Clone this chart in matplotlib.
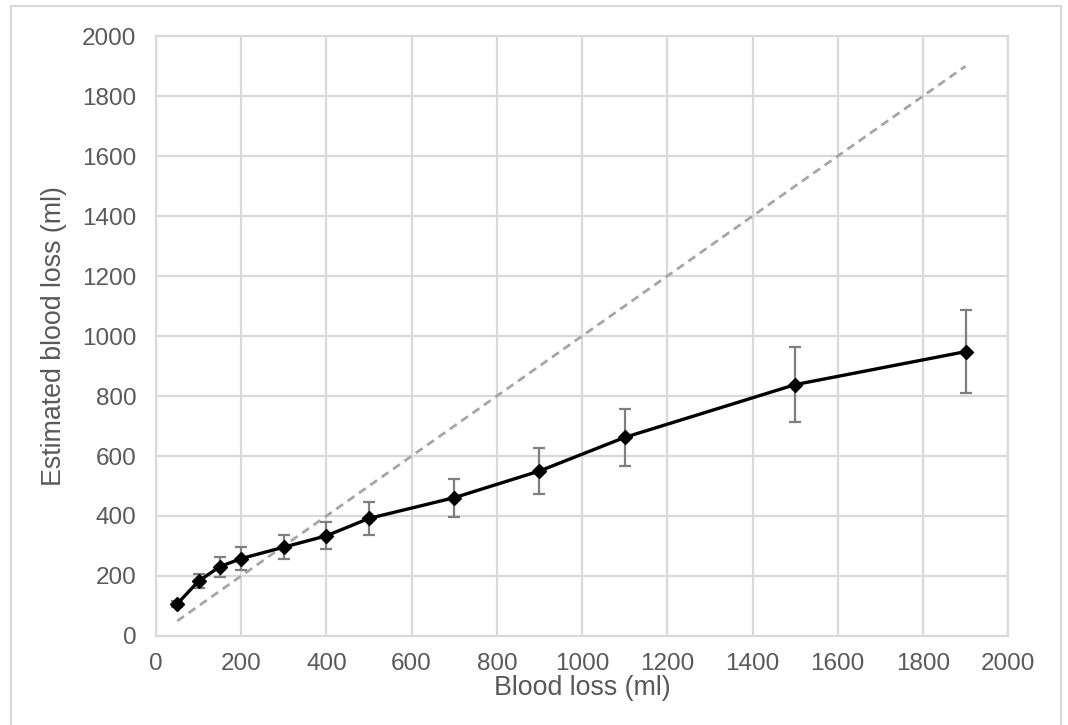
import matplotlib.pyplot as plt
from matplotlib.patches import Rectangle

plt.rcParams["font.family"] = ["Liberation Sans", "DejaVu Sans"]

# data
blood_loss = [50, 100, 150, 200, 300, 400, 500, 700, 900, 1100, 1500, 1900]
estimated = [107, 183, 231, 258, 296, 334, 392, 461, 550, 662, 838, 948]
err = [10, 24, 33, 38, 40, 45, 54, 63, 78, 95, 125, 138]
identity = [50, 1900]

TEXT = "#595959"
GRID = "#d9d9d9"

fig = plt.figure(figsize=(10.68, 7.25), dpi=100)
ax = fig.add_axes([0.146, 0.1228, 0.798, 0.8274])

# outer chart-area border
fig.patches.append(Rectangle((11 / 1068, -0.05), 1050 / 1068, 1.05 - 6 / 725,
                             transform=fig.transFigure, fill=False,
                             edgecolor=GRID, linewidth=1.5))

ax.plot(identity, identity, color="#a6a6a6", linewidth=2.0,
        dashes=(3, 2), zorder=2)
ax.errorbar(blood_loss, estimated, yerr=err, fmt="none", ecolor="#7f7f7f",
            elinewidth=1.6, capsize=4.5, capthick=1.6, zorder=3)
ax.plot(blood_loss, estimated, color="black", linewidth=2.4, marker="D",
        markersize=7.5, zorder=4)

ax.set_xlim(0, 2000)
ax.set_ylim(0, 2000)
ax.set_xticks(range(0, 2001, 200))
ax.set_yticks(range(0, 2001, 200))
ax.grid(True, color=GRID, linewidth=1.6)
ax.set_axisbelow(True)
for s in ax.spines.values():
    s.set_color(GRID)
    s.set_linewidth(1.6)
ax.tick_params(length=0, labelsize=17.5, labelcolor=TEXT)
ax.tick_params(axis="y", pad=14)
ax.tick_params(axis="x", pad=12)

ax.set_xlabel("Blood loss (ml)", fontsize=19.3, color=TEXT, labelpad=0)
ax.set_ylabel("Estimated blood loss (ml)", fontsize=19.3, color=TEXT, labelpad=11)

fig.savefig("out.png", dpi=100)
